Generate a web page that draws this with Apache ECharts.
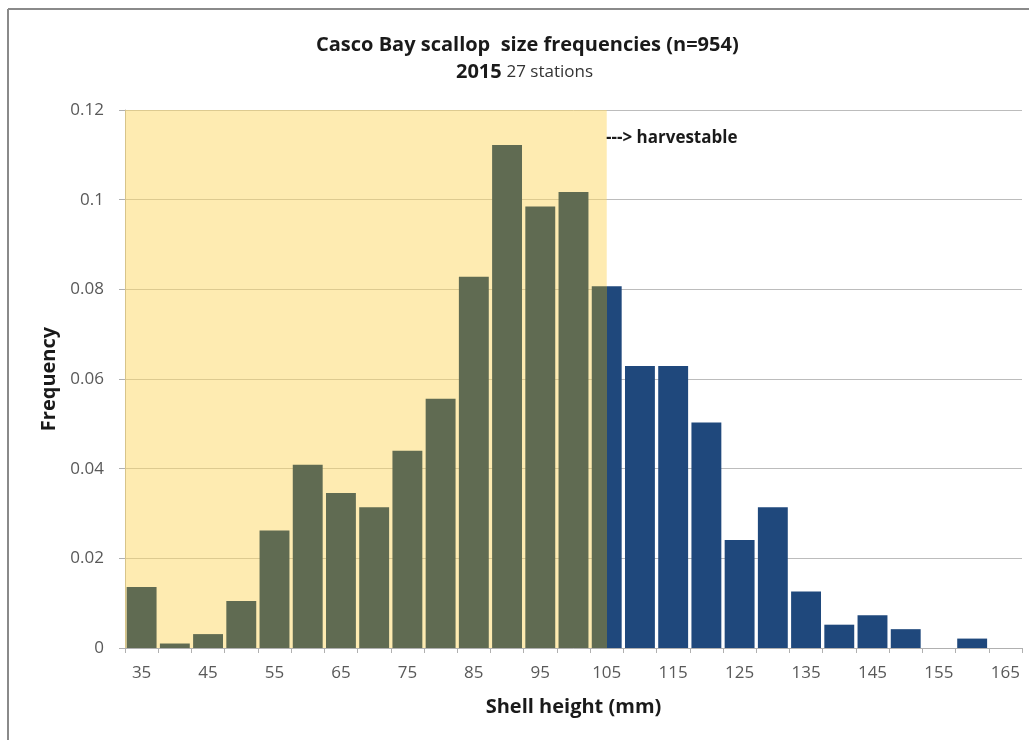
<!DOCTYPE html>
<html>
<head>
<meta charset="utf-8">
<script src="https://cdn.jsdelivr.net/npm/echarts@6/dist/echarts.min.js"></script>
<style>
html,body{margin:0;padding:0;background:#fff;}
#chart{width:1029px;height:740px;}
</style>
</head>
<body>
<div id="chart"></div>
<script>
// Shell height bins (mm)
const categories = ['35','40','45','50','55','60','65','70','75','80','85','90','95','100','105','110','115','120','125','130','135','140','145','150','155','160','165'];
// Frequency per bin
const frequency = [0.0136,0.0010,0.0031,0.0105,0.0262,0.0409,0.0346,0.0314,0.0440,0.0556,0.0828,0.1122,0.0985,0.1017,0.0807,0.0629,0.0629,0.0503,0.0241,0.0314,0.0126,0.0052,0.0073,0.0042,0,0.0021,0];
// Harvestable threshold (mm)
const harvestCutoff = 105;
const yTicks = [0, 0.02, 0.04, 0.06, 0.08, 0.1, 0.12];

const GREEN = '#606B52';
const BLUE = '#1F487C';
const FONT = '"Open Sans", Lato, sans-serif';

const barData = categories.map((c, i) => {
  const v = Number(c);
  let color;
  if (v < harvestCutoff) color = GREEN;
  else if (v > harvestCutoff) color = BLUE;
  else color = {type:'linear', x:0, y:0, x2:1, y2:0, colorStops:[
    {offset:0, color:GREEN},{offset:0.5, color:GREEN},{offset:0.5, color:BLUE},{offset:1, color:BLUE}]};
  return {value: frequency[i], itemStyle:{color}};
});

const chart = echarts.init(document.getElementById('chart'), null, {renderer:'canvas'});
chart.setOption({
  animation:false,
  backgroundColor:'#fff',
  textStyle:{fontFamily:FONT},
  title:[
    {text:'Casco Bay scallop  size frequencies (n=954)', left:311, top:30,
     textStyle:{fontFamily:FONT, fontWeight:'bold', fontSize:20, color:'#1a1a1a'}},
    {text:'{a|2015} {b|27 stations}', left:451, top:57,
     textStyle:{rich:{a:{fontFamily:FONT, fontWeight:'bold', fontSize:20, color:'#1a1a1a'},
                      b:{fontFamily:FONT, fontWeight:'normal', fontSize:17, color:'#333'}}}}
  ],
  graphic:[
    {type:'line', shape:{x1:8, y1:9, x2:1029, y2:9}, style:{stroke:'#8a8a8a', lineWidth:2}},
    {type:'line', shape:{x1:8, y1:9, x2:8, y2:740}, style:{stroke:'#8a8a8a', lineWidth:2}},
    {type:'text', left:606, top:130, style:{text:'---> harvestable', fontFamily:FONT, fontWeight:'bold', fontSize:17, fill:'#1a1a1a'}}
  ],
  grid:{left:125, right:7, top:110, bottom:92, containLabel:false},
  xAxis:[
    {type:'category', data:categories, boundaryGap:true,
     name:'Shell height (mm)', nameLocation:'middle', nameGap:49,
     nameTextStyle:{fontFamily:FONT, fontWeight:'bold', fontSize:20, color:'#1a1a1a'},
     axisLine:{lineStyle:{color:'#b0b0b0', width:1}},
     axisTick:{show:true, interval:0, length:5, lineStyle:{color:'#b0b0b0'}},
     axisLabel:{interval:1, margin:17, fontFamily:FONT, fontSize:17, color:'#595959'},
     splitLine:{show:false}},
    {type:'value', min:32.5, max:167.5, show:false}
  ],
  yAxis:{type:'value', min:0, max:0.12, interval:0.02,
    name:'Frequency', nameLocation:'middle', nameGap:64, nameRotate:90,
    nameTextStyle:{fontFamily:FONT, fontWeight:'bold', fontSize:20, color:'#1a1a1a'},
    axisLine:{show:true, lineStyle:{color:'#b0b0b0'}},
    axisTick:{show:true, length:6, lineStyle:{color:'#b0b0b0'}},
    axisLabel:{margin:21, fontFamily:FONT, fontSize:17, color:'#595959',
      formatter:(v)=>{ const t = yTicks.find(x=>Math.abs(x-v)<1e-9); return String(t===undefined?v:t); }},
    splitLine:{show:true, lineStyle:{color:'#bcbcbc', width:1}}
  },
  series:[
    {type:'line', xAxisIndex:1, yAxisIndex:0, data:[[32.5,0]], symbol:'none', silent:true, z:1,
     lineStyle:{opacity:0},
     markArea:{silent:true, itemStyle:{color:'rgba(253,215,100,0.5)'},
       data:[[{xAxis:32.5, yAxis:0},{xAxis:harvestCutoff, yAxis:0.12}]]}},
    {type:'bar', xAxisIndex:0, yAxisIndex:0, data:barData, barCategoryGap:'10%', z:3,
     itemStyle:{borderWidth:0}}
  ]
});
</script>
</body>
</html>
